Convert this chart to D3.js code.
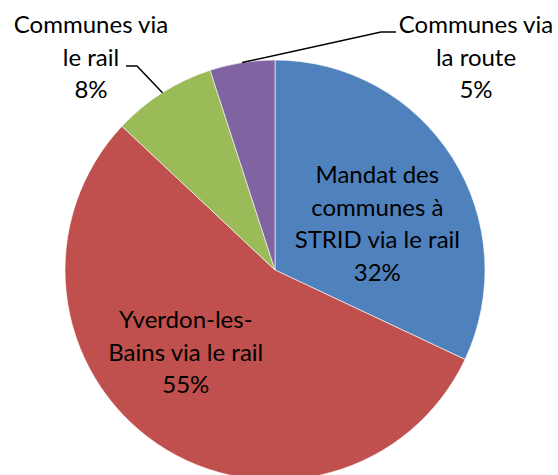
<!DOCTYPE html>
<html>
<head>
    <meta charset='utf-8'>
    <title>Répartition des transports</title>
    <style>
        body { margin: 0; background: #fff; }
        svg { display: block; }
    </style>
</head>
<body>
<svg width="558" height="475"></svg>
<script src="https://d3js.org/d3.v7.min.js"></script>
<script>
    // data, clockwise from 12 o'clock
    const categories = [
        ["Mandat des", "communes à", "STRID via le rail"],
        ["Yverdon-les-", "Bains via le rail"],
        ["Communes via", "le rail"],
        ["Communes via", "la route"]
    ]
    const values = [32, 55, 8, 5]
    const colors = ["#4F81BD", "#C0504D", "#9BBB59", "#8064A2"]

    const width = 558
    const height = 475
    const cx = 275, cy = 270, radius = 210
    const lineHeight = 32.5
    const fontSize = 24

    // where each label sits (inside labels: polar offsets, outside: elbow + text anchor)
    const labelLayout = [
        {inside: true, angle: 66, dist: 112},
        {inside: true, angle: 227, dist: 122},
        {inside: false, elbow: [137, 66], end: [126, 66], text: [91, 33]},
        {inside: false, elbow: [381, 32], end: [396, 32], text: [476, 33]}
    ]

    const total = d3.sum(values)
    const data = values.map((v, i) => ({name: categories[i], value: v, color: colors[i], layout: labelLayout[i]}))

    const pie = d3.pie().sort(null).value(d => d.value)
    const arc = d3.arc().innerRadius(0).outerRadius(radius)
    const edgeArc = d3.arc().innerRadius(radius).outerRadius(radius)

    const svg = d3.select("svg")
        .attr("viewBox", [0, 0, width, height])

    const g = svg.append("g")
        .attr("transform", `translate(${cx},${cy})`)

    const arcs = pie(data)

    g.selectAll("path")
        .data(arcs)
        .join("path")
        .attr("d", arc)
        .attr("fill", d => d.data.color)
        .attr("stroke", "#fff")
        .attr("stroke-width", 0.6)

    const pct = d => Math.round(d.value / total * 100) + "%"

    // leader lines for the outside labels
    svg.append("g")
        .attr("fill", "none")
        .attr("stroke", "#000")
        .attr("stroke-width", 1.5)
        .selectAll("polyline")
        .data(arcs.filter(d => !d.data.layout.inside))
        .join("polyline")
        .attr("points", d => {
            const mid = (d.startAngle + d.endAngle) / 2
            const p = edgeArc.centroid({startAngle: mid, endAngle: mid})
            const L = d.data.layout
            return [[p[0] + cx, p[1] + cy], L.elbow, L.end].map(q => q.join(",")).join(" ")
        })

    const labels = svg.append("g")
        .attr("font-family", "Lato, 'Open Sans', sans-serif")
        .attr("font-size", fontSize)
        .attr("fill", "#000")
        .attr("text-anchor", "middle")
        .selectAll("text")
        .data(arcs)
        .join("text")
        .each(function (d) {
            const L = d.data.layout
            const lines = d.data.name.concat([pct(d.data)])
            let x, y
            if (L.inside) {
                const a = L.angle * Math.PI / 180
                const bx = cx + L.dist * Math.sin(a)
                const by = cy - L.dist * Math.cos(a)
                x = bx
                // centre the block vertically on the anchor
                y = by - (lines.length - 1) * lineHeight / 2 + fontSize * 0.32
            } else {
                x = L.text[0]
                y = L.text[1]
            }
            d3.select(this).selectAll("tspan")
                .data(lines)
                .join("tspan")
                .attr("x", x)
                .attr("y", (t, i) => y + i * lineHeight)
                .text(t => t)
        })
</script>
</body>
</html>
